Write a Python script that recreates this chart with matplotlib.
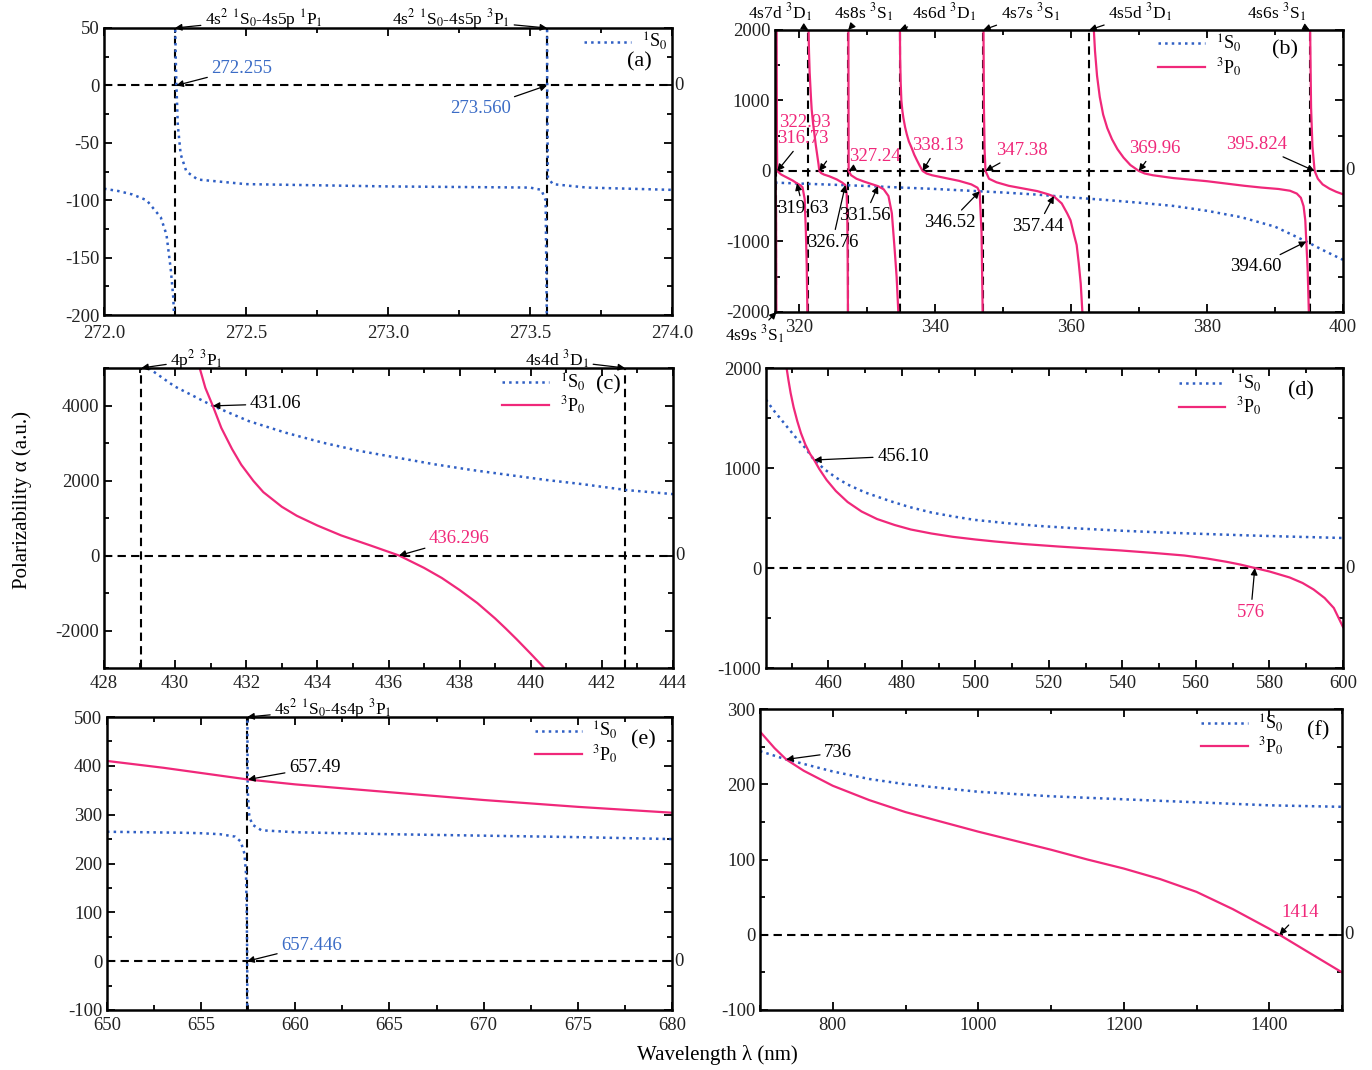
import numpy as np
import matplotlib
matplotlib.use('Agg')
import matplotlib.pyplot as plt
from matplotlib.ticker import MultipleLocator, FormatStrFormatter

plt.rcParams['font.family'] = ['Liberation Serif', 'DejaVu Serif']
plt.rcParams['mathtext.fontset'] = 'stix'
plt.rcParams['axes.unicode_minus'] = False

nan = np.nan
BLUE = '#2f5fc4'
BLUE_TXT = '#3b6cc6'
PINK = '#f0287a'
DASH = (0, (4, 2.5))

S0 = '$^1$S$_0$'
P0 = '$^3$P$_0$'

# ---- (a) 1S0 around 272-274 nm
a_poles = [272.25, 273.56]
a_s0_x = [272.0, 272.05, 272.1, 272.15, 272.2, 272.22, 272.235, 272.244, 272.248, nan,
          272.2502, 272.2525, 272.255, 272.26, 272.27, 272.29, 272.33, 272.5, 273.0, 273.5,
          273.54, 273.555, 273.5595, nan,
          273.5601, 273.5606, 273.563, 273.58, 273.7, 274.0]
a_s0_y = [-90, -92, -95, -100, -115, -130, -160, -185, -210, nan,
          60, 25, 0, -35, -60, -75, -82, -86, -88, -89,
          -91, -100, -210, nan,
          60, 0, -80, -86, -89, -91]

# ---- (b) 316-400 nm
b_poles = [316.62, 321.3, 327.18, 334.75, 347.05, 362.65, 395.1]
b_s0_x = [316.4, 320, 325, 330, 335, 340, 345, 350, 355, 360, 365, 370, 375, 380, 385, 390,
          394.6, 397, 400]
b_s0_y = [-165, -178, -195, -213, -235, -255, -280, -305, -335, -375, -410, -450, -495, -565,
          -655, -790, -1000, -1120, -1260]
b_p0_x = [316.45, 316.56, 316.60, nan,
          316.63, 316.66, 316.69, 316.73, 317.3, 318.2, 319.0, 319.63, 320.1, 320.45, 320.77,
          320.95, 321.07, 321.18, nan,
          321.32, 321.4, 321.5, 321.6, 321.7, 321.8, 322.0, 322.2, 322.4, 322.6, 322.8, 322.93,
          323.2, 323.6, 324.4, 325.5, 326.3, 326.76, 326.95, 327.05, 327.1, 327.14, nan,
          327.2, 327.22, 327.24, 327.6, 328.4, 329.5, 330.6, 331.56, 332.4, 333.1, 333.6,
          334.0, 334.3, 334.6, nan,
          334.78, 334.82, 334.9, 335.0, 335.15, 335.3, 335.55, 335.8, 336.1, 336.5, 336.9,
          337.3, 337.7, 338.13, 338.7, 339.5, 341.5, 343.5, 345.3, 346.2, 346.52, 346.8,
          346.98, nan,
          347.08, 347.15, 347.25, 347.38, 347.9, 349.0, 350.8, 353.0, 355.0, 356.6, 357.44,
          358.6, 359.4, 359.9, 360.4, 360.8, 361.1, 361.4, 361.7, nan,
          363.3, 363.5, 363.8, 364.2, 364.7, 365.3, 366.0, 366.8, 367.7, 368.7, 369.96, 370.8,
          372, 375, 377, 380, 383, 385.5, 388, 390.5, 392.2, 393.2, 393.8, 394.2, 394.45,
          394.6, 394.8, 395.0, nan,
          395.15, 395.3, 395.5, 395.824, 396.3, 397.0, 398.0, 399.0, 400.0]
b_p0_y = [-150, -600, -2100, nan,
          2100, 900, 350, 0, -50, -95, -135, -175, -200, -230, -400,
          -880, -1350, -2100, nan,
          2100, 1700, 1400, 1200, 1030, 870, 680, 520, 370, 240, 100, 0,
          -30, -50, -75, -120, -165, -200, -330, -700, -1300, -2100, nan,
          2100, 800, 0, -60, -110, -150, -185, -215, -260, -355, -600,
          -1100, -1500, -2100, nan,
          2100, 1600, 1250, 1000, 850, 750, 620, 520, 420, 330, 230,
          150, 75, 0, -35, -60, -100, -140, -190, -237, -300, -877,
          -2100, nan,
          2100, 900, 300, 0, -110, -160, -210, -250, -285, -330, -360,
          -460, -600, -700, -900, -1050, -1300, -1600, -2100, nan,
          2050, 1700, 1350, 1050, 800, 610, 450, 310, 190, 85, 0, -35,
          -60, -100, -118, -145, -180, -210, -235, -255, -280, -320, -380, -500, -700,
          -1000, -1400, -2100, nan,
          2100, 900, 350, 0, -110, -190, -250, -295, -330]

# ---- (c) 428-444 nm
c_poles = [429.05, 442.65]
c_s0_x = [429.25, 429.98, 431.06, 432.07, 433.11, 434.15, 435.19, 436.23, 437.28, 438.32,
          439.36, 440.40, 441.45, 442.70, 444.0]
c_s0_y = [5000, 4513, 3990, 3584, 3274, 3009, 2788, 2611, 2434, 2283,
          2150, 2018, 1903, 1744, 1637]
c_p0_x = [430.6, 430.69, 430.85, 431.06, 431.3, 431.6, 431.86, 432.2, 432.48, 433.0, 433.42,
          434.0, 434.67, 435.5, 436.296, 437.0, 437.5, 438.0, 438.5, 439.0, 439.3, 439.6,
          440.0, 440.4, 440.5]
c_p0_y = [5350, 5000, 4470, 3990, 3400, 2840, 2420, 1990, 1690, 1300, 1060,
          800, 535, 265, 0, -330, -600, -920, -1270, -1680, -1950, -2230,
          -2620, -3020, -3150]

# ---- (d) 443-600 nm
d_s0_x = [443.0, 445.0, 448.0, 451.0, 453.7, 456.1, 459.0, 462.0, 465.2, 470.0, 476.7, 482.0,
          488.1, 494.0, 499.6, 508.0, 516.7, 528.0, 539.6, 551.0, 562.6, 574.0, 585.5, 593.0,
          600.0]
d_s0_y = [1683, 1580, 1445, 1310, 1200, 1080, 985, 905, 835, 755, 670, 610,
          554, 515, 482, 450, 422, 395, 373, 355, 340, 326, 314, 307,
          300]
d_p0_x = [448.3, 448.6, 449.1, 449.7, 450.5, 451.5, 452.5, 453.7, 455.0, 456.1, 457.5, 459.5,
          462.0, 465.2, 469.0, 473.2, 478.0, 482.4, 488.0, 493.8, 500.0, 505.3, 513.0, 522.5,
          531.0, 539.6, 548.0, 556.8, 563.0, 568.3, 572.0, 576.0, 580.0, 585.5, 589.0, 592.0,
          595.0, 597.5, 600.0]
d_p0_y = [2200, 2000, 1880, 1750, 1610, 1470, 1350, 1235, 1140, 1080, 990, 880,
          770, 660, 565, 490, 430, 385, 345, 312, 285, 265, 240, 215,
          195, 175, 152, 125, 95, 62, 35, 0, -35, -95, -150, -215,
          -300, -400, -590]

# ---- (e) 650-680 nm
e_pole = 657.45
e_s0_x = [650, 652, 654, 655, 656, 656.8, 657.1, 657.3, 657.38, 657.42, 657.446, 657.449, nan,
          657.452, 657.47, 657.55, 657.7, 658.2, 660, 665, 670, 675, 680]
e_s0_y = [265, 264, 263, 262, 260, 255, 245, 220, 180, 100, 0, -110, nan,
          520, 350, 300, 280, 268, 264, 260, 257, 254, 250]
e_p0_x = [650, 653, 657.49, 660, 665, 670, 675, 680]
e_p0_y = [410, 396, 372, 362, 346, 330, 316, 304]

# ---- (f) 700-1500 nm
f_s0_x = [700, 736, 800, 850, 900, 1000, 1100, 1200, 1300, 1400, 1500]
f_s0_y = [244, 233, 217, 207, 200, 190, 184, 180, 176, 172, 170]
f_p0_x = [700, 710, 720, 736, 760, 800, 850, 900, 950, 1000, 1050, 1100, 1150, 1200, 1250,
          1300, 1350, 1400, 1414, 1450, 1500]
f_p0_y = [270, 259, 248, 233, 218, 198, 179, 163, 150, 137, 125, 113, 100, 88, 74,
          57, 34, 8, 0, -21, -50]


def setup(ax, xlim, ylim, xmaj, xmin, ymaj, ymin, xpad=5):
    ax.set_xlim(xlim)
    ax.set_ylim(ylim)
    ax.xaxis.set_major_locator(MultipleLocator(xmaj))
    ax.xaxis.set_minor_locator(MultipleLocator(xmin))
    ax.yaxis.set_major_locator(MultipleLocator(ymaj))
    ax.yaxis.set_minor_locator(MultipleLocator(ymin))
    ax.tick_params(which='both', direction='in', top=True, right=True, width=1.3,
                   labelsize=13.5, labelcolor='#222222')
    ax.tick_params(which='major', length=6)
    ax.tick_params(which='minor', length=3.5)
    ax.tick_params(axis='x', pad=xpad)
    for s in ax.spines.values():
        s.set_linewidth(1.8)
    ax.axhline(0, color='k', ls=DASH, lw=1.5, zorder=1)
    ax.text(1.004, 0, '0', transform=ax.get_yaxis_transform(), ha='left', va='center',
            fontsize=13.5, color='#222222')


def vlines(ax, xs):
    for x in xs:
        ax.axvline(x, color='k', ls=DASH, lw=1.5, zorder=1)


def note(ax, x, y, text, dx, dy, color='k', ha='left', start=None, size=13.5):
    arrow = dict(arrowstyle='-|>', color='k', lw=0.9, mutation_scale=10, shrinkA=1, shrinkB=0)
    if start is None:
        ax.annotate(text, xy=(x, y), xytext=(dx, dy), textcoords='offset pixels', ha=ha,
                    va='center', color=color, fontsize=size, arrowprops=arrow,
                    annotation_clip=False)
    else:
        ax.annotate(text, xy=(x, y), xytext=(dx, dy), textcoords='offset pixels', ha=ha,
                    va='center', color=color, fontsize=size, annotation_clip=False)
        ax.annotate('', xy=(x, y), xytext=start, textcoords='offset pixels',
                    arrowprops=arrow, annotation_clip=False)


def curves(ax, sx, sy, px=None, py=None):
    hs = ax.plot(sx, sy, ls=':', color=BLUE, lw=1.8)
    if px is not None:
        hs += ax.plot(px, py, color=PINK, lw=1.6)
    return hs


def key(ax, handles, anchor, letter, lpos):
    ax.legend(handles, [S0, P0][:len(handles)], loc='upper left', bbox_to_anchor=anchor,
              frameon=False, fontsize=13, handlelength=2.6, handletextpad=0.6,
              labelspacing=0.1, borderaxespad=0, borderpad=0)
    ax.text(lpos[0], lpos[1], letter, transform=ax.transAxes, ha='center', va='center',
            fontsize=16)


fig = plt.figure(figsize=(13.72, 10.70), dpi=100)
W, H = 1372.0, 1070.0


def panel(l, r, t, b):
    return fig.add_axes([l / W, 1 - b / H, (r - l) / W, (b - t) / H])


ax_a = panel(104, 672, 28, 315)
ax_b = panel(775, 1343, 30, 312)
ax_c = panel(104, 673, 368, 668)
ax_d = panel(766, 1343, 368, 668)
ax_e = panel(107, 672, 717, 1010)
ax_f = panel(760, 1342, 709, 1010)

# (a)
setup(ax_a, (272.0, 274.0), (-200, 50), 0.5, 0.25, 50, 25, xpad=7)
ax_a.xaxis.set_major_formatter(FormatStrFormatter('%.1f'))
vlines(ax_a, a_poles)
h = curves(ax_a, a_s0_x, a_s0_y)
note(ax_a, 272.255, 0, '272.255', 35, 17, color=BLUE_TXT)
note(ax_a, 273.560, 0, '273.560', -36, -23, color=BLUE_TXT, ha='right')
note(ax_a, a_poles[0], 50, '4s$^2$ $^1$S$_0$-4s5p $^1$P$_1$', 30, 9, size=12.5)
note(ax_a, a_poles[1], 50, '4s$^2$ $^1$S$_0$-4s5p $^3$P$_1$', -37, 9, ha='right', size=12.5)
key(ax_a, h, (0.845, 0.99), '(a)', (0.942, 0.883))

# (b)
setup(ax_b, (316.4, 400), (-2000, 2000), 20, 10, 1000, 500)
vlines(ax_b, b_poles)
h = curves(ax_b, b_s0_x, b_s0_y, b_p0_x, b_p0_y)
b_top = ['4s7d $^3$D$_1$', '4s8s $^3$S$_1$', '4s6d $^3$D$_1$', '4s7s $^3$S$_1$',
         '4s5d $^3$D$_1$', '4s6s $^3$S$_1$']
b_top_dx = [-28, 15, 44, 47, 51, -33]
for p, t, dx in zip(b_poles[1:], b_top, b_top_dx):
    note(ax_b, p, 2000, t, dx, 17, ha='center', size=12.5)
note(ax_b, b_poles[0], -2000, '4s9s $^3$S$_1$', -22, -23, ha='center', size=12.5)
b_zero = [316.73, 322.93, 327.24, 338.13, 347.38, 369.96, 395.824]
b_zero_lab = ['316.73', '322.93', '327.24', '338.13', '347.38', '369.96', '395.824']
b_zero_off = [(26, 32), (-14, 48), (26, 14), (15, 25), (36, 20), (16, 22), (-58, 26)]
for x, t, (dx, dy) in zip(b_zero, b_zero_lab, b_zero_off):
    start = (8, 11) if t == '322.93' else None
    note(ax_b, x, 0, t, dx, dy, color=PINK, ha='center', start=start)
b_cross = [319.63, 326.76, 331.56, 346.52, 357.44, 394.60]
b_cross_y = [-175, -200, -215, -288, -355, -1000]
b_cross_lab = ['319.63', '326.76', '331.56', '346.52', '357.44', '394.60']
b_cross_off = [(6, -25), (-13, -57), (-13, -29), (-30, -31), (-16, -30), (-50, -25)]
for x, y, t, (dx, dy) in zip(b_cross, b_cross_y, b_cross_lab, b_cross_off):
    note(ax_b, x, y, t, dx, dy, ha='center')
key(ax_b, h, (0.675, 0.99), '(b)', (0.898, 0.929))

# (c)
setup(ax_c, (428, 444), (-3000, 5000), 2, 1, 2000, 1000)
vlines(ax_c, c_poles)
h = curves(ax_c, c_s0_x, c_s0_y, c_p0_x, c_p0_y)
note(ax_c, 431.06, 3990, '431.06', 37, 2)
note(ax_c, 436.296, 0, '436.296', 30, 17, color=PINK)
note(ax_c, c_poles[0], 5000, '4p$^2$ $^3$P$_1$', 29, 8, size=12.5)
note(ax_c, c_poles[1], 5000, '4s4d $^3$D$_1$', -36, 8, ha='right', size=12.5)
key(ax_c, h, (0.70, 0.99), '(c)', (0.886, 0.943))

# (d)
setup(ax_d, (443, 600), (-1000, 2000), 20, 10, 1000, 500)
h = curves(ax_d, d_s0_x, d_s0_y, d_p0_x, d_p0_y)
note(ax_d, 456.10, 1080, '456.10', 63, 4)
note(ax_d, 576, 0, '576', -4, -44, color=PINK, ha='center')
key(ax_d, h, (0.715, 0.985), '(d)', (0.927, 0.923))

# (e)
setup(ax_e, (650, 680), (-100, 500), 5, 2.5, 100, 50)
vlines(ax_e, [e_pole])
h = curves(ax_e, e_s0_x, e_s0_y, e_p0_x, e_p0_y)
note(ax_e, 657.49, 372, '657.49', 41, 12)
note(ax_e, 657.446, 0, '657.446', 34, 16, color=BLUE_TXT)
note(ax_e, e_pole, 500, '4s$^2$ $^1$S$_0$-4s4p $^3$P$_1$', 27, 8, size=12.5)
key(ax_e, h, (0.757, 0.99), '(e)', (0.949, 0.922))

# (f)
setup(ax_f, (700, 1500), (-100, 300), 200, 100, 100, 50)
h = curves(ax_f, f_s0_x, f_s0_y, f_p0_x, f_p0_y)
note(ax_f, 736, 233, '736', 38, 7)
note(ax_f, 1414, 0, '1414', 21, 22, color=PINK, ha='center')
key(ax_f, h, (0.757, 0.99), '(f)', (0.959, 0.929))

fig.text(22 / W, 1 - 500 / H, 'Polarizability α (a.u.)', rotation=90, ha='center',
         va='center', fontsize=15)
fig.text(717 / W, 1 - 1055 / H, 'Wavelength λ (nm)', ha='center', va='center', fontsize=15)

fig.savefig('out.png', dpi=100)
